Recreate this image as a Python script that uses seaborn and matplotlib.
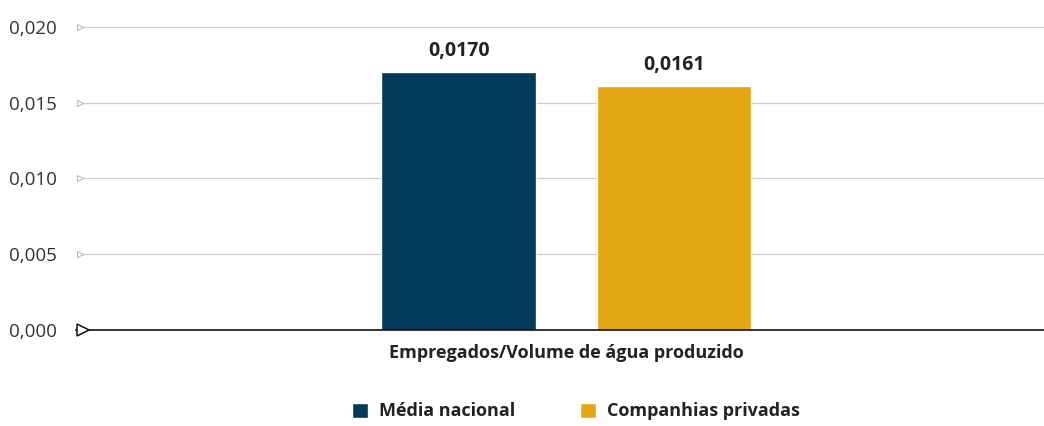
import matplotlib
matplotlib.use("Agg")
import matplotlib.pyplot as plt
import matplotlib.transforms as mtransforms
from matplotlib.ticker import FuncFormatter
from matplotlib.patches import Patch
import seaborn as sns
import pandas as pd

# data
indicador = ["Empregados/Volume de água produzido"]
grupos = ["Média nacional", "Companhias privadas"]
valores = [0.0170, 0.0161]
cores = ["#023B59", "#E4A712"]
y_ticks = [0.000, 0.005, 0.010, 0.015, 0.020]

df = pd.DataFrame({
    "Indicador": indicador * len(grupos),
    "Grupo": grupos,
    "Valor": valores,
})

sns.set_theme(style="white")
plt.rcParams["font.family"] = ["Open Sans", "DejaVu Sans"]

fig = plt.figure(figsize=(10.44, 4.26), dpi=100)
ax = fig.add_axes([76 / 1044, 1 - 330 / 426, 1 - 76 / 1044, (330 - 27) / 426])

sns.barplot(data=df, x="Indicador", y="Valor", hue="Grupo", palette=cores,
            width=0.445, gap=0.284, saturation=1, legend=False, ax=ax)

ax.set_xlim(-0.5065, 0.4935)
ax.set_ylim(0, 0.020)
ax.set_yticks(y_ticks)
ax.yaxis.set_major_formatter(FuncFormatter(lambda v, p: f"{v:.3f}".replace(".", ",")))
ax.tick_params(axis="y", length=0, pad=14, labelsize=13.5, labelcolor="#333333")
ax.tick_params(axis="x", length=0, pad=10)
for lab in ax.get_xticklabels():
    lab.set_fontweight("bold")
    lab.set_fontsize(13)
    lab.set_color("#222222")
ax.set_xlabel("")
ax.set_ylabel("")

for s in ["top", "right", "left"]:
    ax.spines[s].set_visible(False)
ax.spines["bottom"].set_color("#111111")
ax.spines["bottom"].set_linewidth(1.2)

# grid lines with small triangle markers
trans = mtransforms.blended_transform_factory(ax.transAxes, ax.transData)
for t in y_ticks[1:]:
    ax.plot([0.006, 1], [t, t], color="#cccccc", lw=0.9, transform=trans,
            zorder=0, clip_on=False)
    ax.plot([0.004], [t], marker=">", ms=5, mfc="white", mec="#bbbbbb",
            mew=0.8, transform=trans, clip_on=False, zorder=1)
ax.plot([0.007], [0], marker=">", ms=8.5, mfc="white", mec="#111111",
        mew=1.1, transform=trans, clip_on=False, zorder=5)

for cont in ax.containers:
    ax.bar_label(cont, labels=[f"{b.get_height():.4f}".replace(".", ",") for b in cont],
                 padding=8, fontsize=14, fontweight="bold", color="#222222")

handles = [Patch(facecolor=c, label=g) for c, g in zip(cores, grupos)]
fig.legend(handles=handles, loc="lower center", bbox_to_anchor=(576 / 1044, -0.025),
           ncol=2, frameon=False, handlelength=0.9, handleheight=0.9,
           handletextpad=0.6, columnspacing=3.6,
           prop={"weight": "bold", "size": 13})
for txt in fig.legends[0].get_texts():
    txt.set_color("#222222")

fig.savefig("out.png", dpi=100)
plt.close(fig)
